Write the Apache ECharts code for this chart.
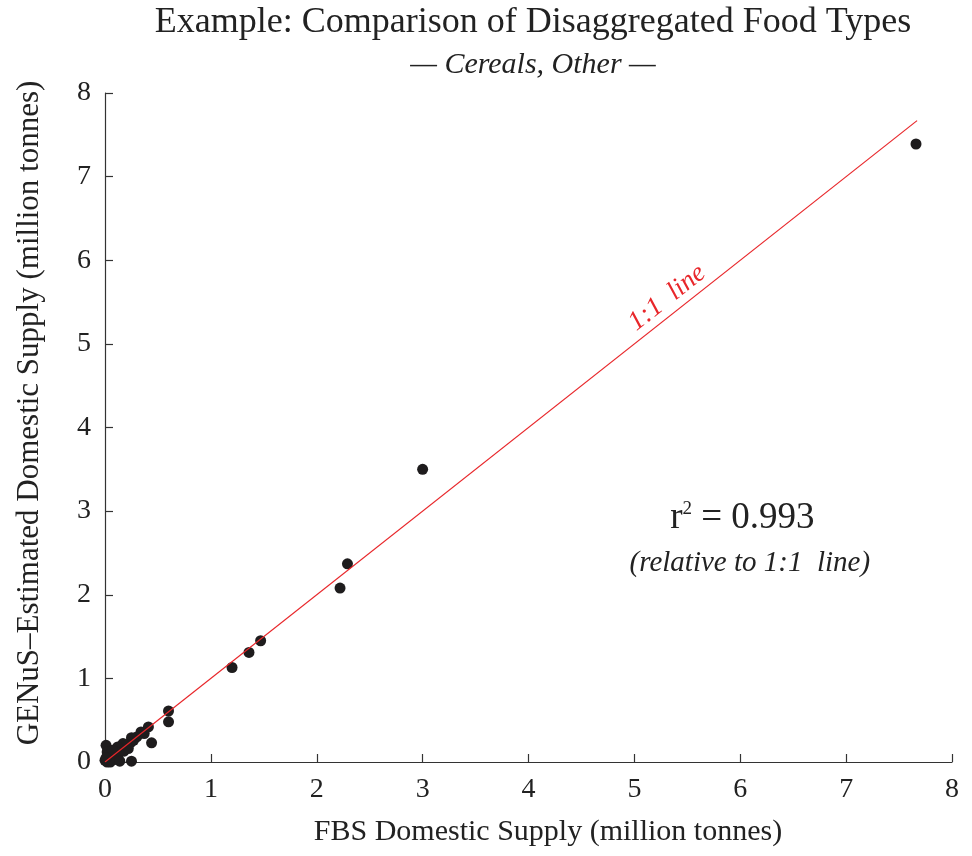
<!DOCTYPE html>
<html>
<head>
<meta charset="utf-8">
<script src="https://cdn.jsdelivr.net/npm/echarts@6/dist/echarts.min.js"></script>
<style>html,body{margin:0;padding:0;background:#fff}#c{width:972px;height:856px}</style>
</head>
<body>
<div id="c"></div>
<script>
// FBS domestic supply (x) and GENuS-estimated supply (y), million tonnes
const fbs   = [7.66, 3.00, 2.29, 2.22, 1.47, 1.36, 1.20, 0.60, 0.60,
               0.44, 0.41, 0.37, 0.34, 0.30, 0.27, 0.25, 0.24, 0.20, 0.17,
               0.15, 0.12, 0.10, 0.08, 0.06, 0.03, 0.01, 0.02, 0.00, 0.02,
               0.05, 0.09, 0.12, 0.25, 0.14, 0.18, 0.22, 0.04, 0.07, 0.01];
const genus = [7.39, 3.50, 2.37, 2.08, 1.45, 1.31, 1.13, 0.61, 0.48,
               0.23, 0.42, 0.34, 0.36, 0.30, 0.26, 0.29, 0.23, 0.20, 0.22,
               0.15, 0.18, 0.12, 0.10, 0.05, 0.08, 0.20, 0.12, 0.02, 0.00,
               0.00, 0.03, 0.06, 0.01, 0.01, 0.13, 0.16, 0.03, 0.14, 0.05];
const oneToOneX = [0, 7.67];
const xTicks = [0, 1, 2, 3, 4, 5, 6, 7, 8];
const yTicks = [0, 1, 2, 3, 4, 5, 6, 7, 8];
const xName = 'FBS Domestic Supply (million tonnes)';
const yName = 'GENuS\u2013Estimated Domestic Supply (million tonnes)';

const FONT = '"Liberation Serif", "DejaVu Serif", serif';
const INK = '#222';
const RED = '#e8262a';

const chart = echarts.init(document.getElementById('c'), null, {renderer: 'canvas'});

const axisCommon = {
  type: 'value',
  interval: 1,
  splitLine: {show: false},
  axisLine: {show: true, onZero: false, lineStyle: {color: '#333', width: 1.2}},
  axisTick: {show: true, inside: true, length: 8, lineStyle: {color: '#333', width: 1.2}},
  axisLabel: {fontFamily: FONT, fontSize: 28, color: INK}
};

const option = {
  animation: false,
  backgroundColor: '#fff',
  grid: {left: 105, right: 20, top: 93, bottom: 94, containLabel: false, outerBoundsMode: 'none'},
  xAxis: Object.assign({}, axisCommon, {
    min: xTicks[0], max: xTicks[xTicks.length - 1],
    axisLabel: Object.assign({}, axisCommon.axisLabel, {margin: 14})
  }),
  yAxis: Object.assign({}, axisCommon, {
    min: yTicks[0], max: yTicks[yTicks.length - 1],
    axisLabel: Object.assign({}, axisCommon.axisLabel, {margin: 14})
  }),
  series: [
    {
      type: 'scatter',
      data: fbs.map((x, i) => [x, genus[i]]),
      symbol: 'circle',
      symbolSize: 11,
      itemStyle: {color: '#1e1c1d', opacity: 1},
      z: 2
    },
    {
      type: 'line',
      data: oneToOneX.map(v => [v, v]),
      symbol: 'none',
      lineStyle: {color: RED, width: 1.2},
      z: 3
    }
  ]
};
chart.setOption(option);

// annotations anchored through the axes' scales
const p0 = chart.convertToPixel({gridIndex: 0}, [0, 0]);
const p1 = chart.convertToPixel({gridIndex: 0}, [7.67, 7.67]);
const ang = Math.atan2(p0[1] - p1[1], p1[0] - p0[0]);
const lblPos = chart.convertToPixel({gridIndex: 0}, [5.31, 5.55]);
const r2Pos = chart.convertToPixel({gridIndex: 0}, [6.02, 2.92]);
const relPos = chart.convertToPixel({gridIndex: 0}, [6.09, 2.37]);

chart.setOption({
  graphic: [
    {type: 'text', x: 533, y: 23, style: {text: 'Example: Comparison of Disaggregated Food Types', font: '36px ' + FONT, fill: INK, textAlign: 'center', textVerticalAlign: 'middle'}},
    {type: 'text', x: 533, y: 65, style: {text: '\u2014 Cereals, Other \u2014', font: 'italic 30px ' + FONT, fill: INK, textAlign: 'center', textVerticalAlign: 'middle'}},
    {type: 'text', x: 548, y: 832, style: {text: xName, font: '30px ' + FONT, fill: INK, textAlign: 'center', textVerticalAlign: 'middle'}},
    {type: 'text', x: 30, y: 413, rotation: Math.PI / 2, style: {text: yName, font: '31px ' + FONT, fill: INK, textAlign: 'center', textVerticalAlign: 'middle'}},
    {type: 'text', x: lblPos[0], y: lblPos[1], rotation: ang, style: {text: '1:1  line', font: 'italic 27px ' + FONT, fill: RED, textAlign: 'center', textVerticalAlign: 'middle'}},
    {type: 'text', x: r2Pos[0], y: r2Pos[1], style: {
      text: '{r|r}{s|2}{r| = 0.993}', textAlign: 'center', textVerticalAlign: 'middle',
      rich: {
        r: {fontFamily: FONT, fontSize: 37, fill: INK, color: INK},
        s: {fontFamily: FONT, fontSize: 19, fill: INK, color: INK, verticalAlign: 'top', padding: [0, 0, 16, 0]}
      }
    }},
    {type: 'text', x: relPos[0], y: relPos[1], style: {text: '(relative to 1:1  line)', font: 'italic 29px ' + FONT, fill: INK, textAlign: 'center', textVerticalAlign: 'middle'}}
  ]
});
</script>
</body>
</html>
